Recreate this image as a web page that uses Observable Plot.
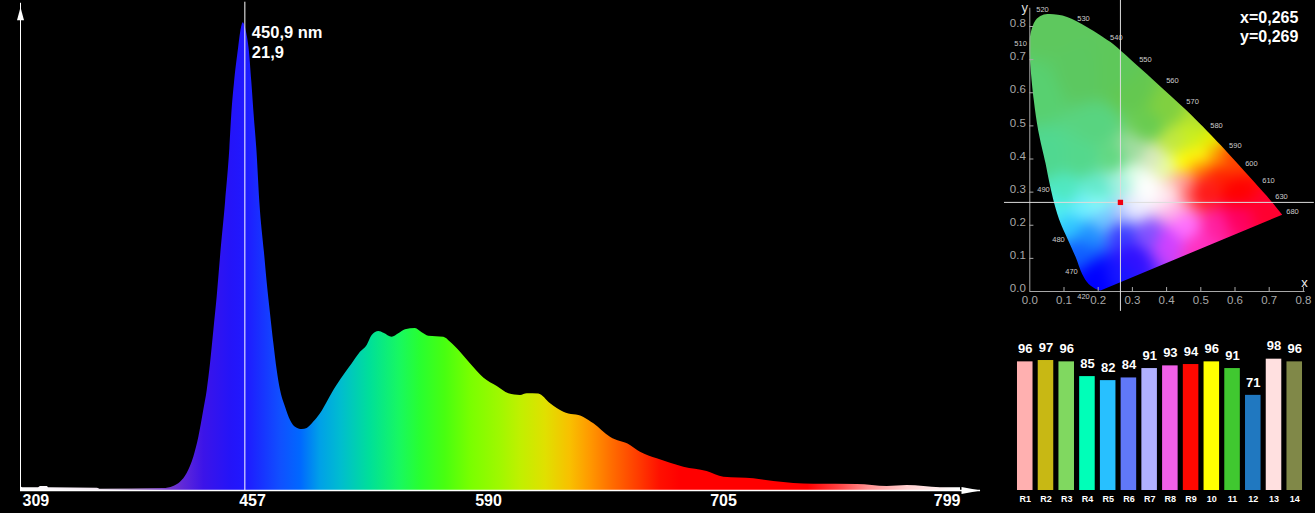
<!DOCTYPE html>
<html>
<head>
<meta charset="utf-8">
<style>
html,body{margin:0;padding:0;background:#000;}
#chart{position:relative;width:1315px;height:513px;overflow:hidden;background:#000;font-family:"Liberation Sans",Arial,sans-serif;}
#chart svg{position:absolute;display:block;background:transparent;}
</style>
<script src="https://cdn.jsdelivr.net/npm/d3@7"></script>
<script src="https://cdn.jsdelivr.net/npm/@observablehq/plot@0.6"></script>
</head>
<body>
<div id="chart"></div>
<script>
// ---- Spectrum ----
const wavelengths = [309,310.9,320.4,321.6,326.1,326.7,357.7,359.6,399.4,405.8,410.2,414.4,418.6,421.8,424.9,427.1,429.2,431.3,433.4,435.5,438.7,441.4,442.6,444.4,446.9,448.3,449.9,450.9,451.9,453.6,455.3,456.8,458.3,460,462.6,464.2,466,467.9,469.8,471.7,474.5,477.3,480.1,483.9,486.7,490.4,494.2,498,501.7,507.3,512.1,516.7,520.5,523.3,527.1,529.9,534.6,538.3,542.1,547.7,551.5,555.2,563.7,567.5,573.1,578.7,586.2,593.3,599,604.7,608,613.6,619.4,625.9,635.7,640.6,648.7,658.5,663.4,671.6,684.6,696,704.2,716.3,724.3,740.3,757.7,769.7,777.7,791,799];
const intensities = [0.19,0.13,0.13,0.19,0.19,0.13,0.11,0.06,0.09,0.19,0.39,0.8,1.56,2.49,3.74,4.68,5.94,7.49,9.05,10.92,13.49,15.99,17.55,19.11,20.67,21.45,21.89,21.75,21.45,20.67,19.11,17.55,15.99,13.49,11.14,9.69,8.28,6.88,5.62,4.68,3.9,3.28,2.96,2.85,2.9,3.2,3.59,4.13,4.68,5.38,5.93,6.47,6.79,7.25,7.44,7.36,7.17,7.33,7.52,7.58,7.38,7.22,7.17,6.94,6.47,5.93,5.27,4.87,4.53,4.45,4.53,4.51,4.06,3.66,3.42,3.12,2.49,2.11,1.79,1.48,1.09,0.89,0.62,0.55,0.42,0.29,0.28,0.19,0.23,0.13,0.13];
const gradientNm = [309,357,379,401,412,425,442,451,460.4,471.7,483,494,505.5,522.4,539,550.6,564.6,578.7,595,604.7,617,629,639,648.7,663.4,673,683,738,750,762,778,798];
const gradientColors = ["#ffffff","#f0e4f0","#b090c8","#7a40c8","#6028d8","#3c14e8","#2414f8","#2018ff","#1830ff","#1050ff","#0068ff","#00a0e8","#00bcd0","#00e098","#18f860","#28ff30","#48ff10","#78ff00","#a0f800","#c0f000","#e0e000","#f8c000","#ff9800","#ff7000","#ff3800","#ff1000","#ff0000","#ff0000","#ff4040","#ff9090","#ffd0d0","#ffffff"];
const nmTicks = [309,457,590,705,799];
const peakNm = 450.9;
const peakValue = 21.9;
const peakLabel = "450,9 nm\n21,9";

// ---- Chromaticity ----
const locusX = [0.207,0.197,0.172,0.153,0.134,0.112,0.085,0.068,0.056,0.046,0.0246,0.0117,0.002,-0.001,0.002,0.0167,0.036,0.0585,0.109,0.168,0.236,0.263,0.324,0.402,0.47,0.519,0.558,0.596,0.655,0.704,0.738];
const locusY = [0.003,0.006,0.023,0.053,0.104,0.155,0.22,0.28,0.335,0.387,0.486,0.577,0.678,0.738,0.778,0.819,0.834,0.8377,0.829,0.798,0.753,0.73,0.673,0.6,0.535,0.484,0.442,0.399,0.332,0.275,0.232];
const swatchX = [0.05,0.15,0.25,0.3,0.02,0.05,0.15,0.1,0.08,0.12,0.15,0.17,0.2,0.2,0.25,0.3,0.27,0.27,0.3,0.35,0.33,0.4,0.42,0.45,0.4,0.35,0.5,0.55,0.6,0.7,0.6,0.52,0.42,0.46,0.5,0.45,0.5,0.55,0.59,0.5,0.55,0.45,0.4,0.36,0.42,0.48,0.5,0.53,0.3,0.25,0.3,0.27,0.2,0.2,0.15,0.22,0.4,0.35,0.2];
const swatchY = [0.8,0.65,0.65,0.6,0.6,0.4,0.4,0.3,0.25,0.2,0.12,0.17,0.05,0.02,0.05,0.1,0.18,0.23,0.25,0.3,0.33,0.28,0.25,0.2,0.15,0.17,0.13,0.2,0.22,0.24,0.3,0.33,0.3,0.3,0.3,0.39,0.37,0.35,0.407,0.407,0.407,0.33,0.38,0.4,0.45,0.47,0.52,0.46,0.42,0.4,0.35,0.33,0.3,0.27,0.25,0.22,0.55,0.5,0.5];
const swatchColors = ["#5ec85e","#5cc860","#5ec85a","#64c850","#58d070","#50d890","#54d88c","#50e8c0","#50f0f0","#30c8ff","#1060ff","#2090ff","#0000ff","#0000ff","#1818ff","#3010ff","#3838ff","#b0c0ff","#f0f0ff","#ffffff","#ffffff","#fff0f8","#ffb0e8","#ff70ff","#d040ff","#8050ff","#ff30c0","#ff20a0","#ff0060","#ff0030","#ff0000","#ff2020","#ffe0e0","#ff6060","#ff1010","#ffff00","#ff8000","#ff2000","#ff4000","#ffff10","#ff9000","#ffa0a0","#e8ffa0","#d8e8c0","#c0e840","#c8f020","#b0e030","#e8f000","#a0dca0","#60d880","#e0ffe8","#a0f0e0","#60e8c8","#90ffff","#70f0ff","#70c8ff","#80d040","#68cc50","#58d480"];
const cieTicks = [0,0.1,0.2,0.3,0.4,0.5,0.6,0.7,0.8];
const nmLabels = ["520","530","540","550","560","570","580","590","600","610","630","680","490","480","470","420","510"];
const nmLabelX = [0.037,0.157,0.253,0.338,0.417,0.476,0.546,0.601,0.648,0.698,0.736,0.768,0.04,0.084,0.122,0.157,-0.027];
const nmLabelY = [0.852,0.825,0.767,0.701,0.637,0.574,0.5,0.441,0.387,0.335,0.287,0.242,0.308,0.157,0.06,-0.015,0.748];
const pointX = 0.265;
const pointY = 0.269;
const cieReadout = "x=0,265\ny=0,269";

// ---- Colour rendering ----
const criNames = ["R1","R2","R3","R4","R5","R6","R7","R8","R9","10","11","12","13","14"];
const criValues = [96,97,96,85,82,84,91,93,94,96,91,71,98,96];
const criColors = ["#ffb0b0","#c8b814","#80d860","#00ffb8","#28c0ff","#6078f8","#b0b0ff","#f060e8","#ff0800","#ffff00","#40c830","#2078c0","#ffe0e0","#808848"];

const FONT = '"Liberation Sans", Arial, sans-serif';
const spectrum = wavelengths.map((nm, i) => ({nm, v: intensities[i]}));
const tickRows = nmTicks.map((nm, i) => ({nm, anchor: i === 0 ? "start" : i === nmTicks.length - 1 ? "end" : "middle"}));

function spectrumGradient(index, {x}, values, dims, context) {
  const doc = context.document, ns = "http://www.w3.org/2000/svg";
  const defs = doc.createElementNS(ns, "defs");
  const g = doc.createElementNS(ns, "linearGradient");
  g.setAttribute("id", "spectrumFill");
  g.setAttribute("gradientUnits", "userSpaceOnUse");
  const x0 = x(gradientNm[0]), x1 = x(gradientNm[gradientNm.length - 1]);
  g.setAttribute("x1", x0); g.setAttribute("x2", x1);
  g.setAttribute("y1", 0); g.setAttribute("y2", 0);
  gradientNm.forEach((nm, i) => {
    const s = doc.createElementNS(ns, "stop");
    s.setAttribute("offset", (x(nm) - x0) / (x1 - x0));
    s.setAttribute("stop-color", gradientColors[i]);
    g.appendChild(s);
  });
  defs.appendChild(g);
  return defs;
}

const spectrumPlot = Plot.plot({
  width: 1000, height: 513, margin: 0,
  style: {background: "transparent", color: "#fff", fontFamily: FONT},
  x: {type: "linear", domain: nmTicks, range: [20, 254, 490, 725, 960], axis: null},
  y: {domain: [0, peakValue], range: [490, 22], axis: null},
  marks: [
    spectrumGradient,
    Plot.areaY(spectrum, {x: "nm", y: "v", fill: "url(#spectrumFill)", curve: "monotone-x"}),
    Plot.ruleY([0], {x1: nmTicks[0], x2: 807, stroke: "#fff", strokeWidth: 1.5}),
    Plot.ruleX([nmTicks[0]], {y1: 0, y2: 22.8, stroke: "#fff", strokeWidth: 1}),
    Plot.ruleX([peakNm], {y1: 0, y2: 22.85, stroke: "#fff", strokeWidth: 1}),
    Plot.vector([0], {x: nmTicks[0], y: 22, length: 13, r: 3.5, shape: "spike", fill: "#fff", stroke: "none", anchor: "start"}),
    Plot.vector([0], {x: 799.4, y: 0, length: 19, r: 3.5, rotate: 90, shape: "spike", fill: "#fff", stroke: "none", anchor: "start"}),
    Plot.text(tickRows.filter(d => d.anchor === "start"), {x: "nm", y: 0, text: d => String(d.nm), textAnchor: "start", dx: 2, dy: 10, fontSize: 16, fontWeight: "bold", fill: "#fff"}),
    Plot.text(tickRows.filter(d => d.anchor === "middle"), {x: "nm", y: 0, text: d => String(d.nm), textAnchor: "middle", dx: -2, dy: 10, fontSize: 16, fontWeight: "bold", fill: "#fff"}),
    Plot.text(tickRows.filter(d => d.anchor === "end"), {x: "nm", y: 0, text: d => String(d.nm), textAnchor: "end", dy: 10, fontSize: 16, fontWeight: "bold", fill: "#fff"}),
    Plot.text([peakLabel], {x: peakNm, y: peakValue, textAnchor: "start", lineAnchor: "middle", lineHeight: 1.22, dx: 7, dy: 19, fontSize: 16.5, fontWeight: "bold", fill: "#fff"})
  ]
});
spectrumPlot.style.left = "0px"; spectrumPlot.style.top = "0px";

const locus = locusX.map((x, i) => [x, locusY[i]]);
const swatchRGB = swatchColors.map(c => d3.rgb(c));
function cieColor(x, y) {
  let w = 0, r = 0, g = 0, b = 0;
  for (let i = 0; i < swatchRGB.length; i++) {
    const d2 = (x - swatchX[i]) ** 2 + (y - swatchY[i]) ** 2 + 0.001;
    const k = 1 / (d2 * d2 * d2);
    const c = swatchRGB[i];
    w += k; r += k * c.r; g += k * c.g; b += k * c.b;
  }
  return `rgb(${Math.round(r / w)},${Math.round(g / w)},${Math.round(b / w)})`;
}
function clipToLocus(index, scales, values, dims, context, next) {
  const g = next(index, scales, values, dims, context);
  const ns = "http://www.w3.org/2000/svg", doc = context.document;
  const clip = doc.createElementNS(ns, "clipPath");
  clip.setAttribute("id", "cieLocus");
  const path = doc.createElementNS(ns, "path");
  const line = d3.line(d => scales.x(d[0]), d => scales.y(d[1])).curve(d3.curveCatmullRom);
  path.setAttribute("d", line(locus) + "Z");
  clip.appendChild(path);
  g.appendChild(clip);
  g.setAttribute("clip-path", "url(#cieLocus)");
  const image = g.querySelector("image");
  if (image) image.style.filter = "blur(6px)";
  return g;
}

const axisGrey = "#a8a8a8";
const ciePlot = Plot.plot({
  width: 315, height: 325, margin: 0,
  style: {background: "transparent", color: "#fff", fontFamily: FONT},
  x: {domain: [0, 0.8], range: [29.3, 302.9], axis: null},
  y: {domain: [0, 0.8], range: [291, 26], axis: null},
  color: {type: "identity"},
  marks: [
    Plot.raster({x1: -0.06, x2: 0.8, y1: -0.06, y2: 0.9, pixelSize: 1, fill: cieColor, render: clipToLocus}),
    Plot.ruleY([0], {x1: 0, x2: 0.805, stroke: axisGrey, strokeWidth: 1}),
    Plot.ruleX([0], {y1: 0, y2: 0.855, stroke: axisGrey, strokeWidth: 1}),
    Plot.ruleX(cieTicks.slice(1), {y1: 0, y2: 0.012, stroke: axisGrey}),
    Plot.ruleY(cieTicks.slice(1), {x1: 0, x2: 0.012, stroke: axisGrey}),
    Plot.text(cieTicks, {x: d => d, y: 0, text: d => d.toFixed(1), dy: 9, fontSize: 11.5, fill: axisGrey}),
    Plot.text(cieTicks, {x: 0, y: d => d, text: d => d.toFixed(1), textAnchor: "end", dx: -4, dy: -3, fontSize: 11.5, fill: axisGrey}),
    Plot.text(["x"], {x: 0.8, y: 0.025, fontSize: 13, fill: "#eee", dx: 1}),
    Plot.text(["y"], {x: 0, y: 0.856, fontSize: 13, fill: "#ddd", dx: -5}),
    Plot.text(nmLabels, {x: nmLabelX, y: nmLabelY, fontSize: 7.5, fill: "#ccc"}),
    Plot.ruleX([pointX], {y1: -0.06, y2: 0.88, stroke: "#ddd", strokeWidth: 1}),
    Plot.ruleY([pointY], {x1: -0.074, x2: 0.832, stroke: "#ddd", strokeWidth: 1}),
    Plot.dot([0], {x: pointX, y: pointY, symbol: "square", r: 3, fill: "#f00010", stroke: "none"}),
    Plot.text([cieReadout], {x: 0.8, y: 0.8, textAnchor: "end", lineAnchor: "middle", lineHeight: 1.2, dx: -5, dy: 0, fontSize: 16, fontWeight: "bold", fill: "#fff"})
  ]
});
ciePlot.style.left = "1000px"; ciePlot.style.top = "0px";

const cri = criNames.map((name, i) => ({name, value: criValues[i], color: criColors[i]}));
const criPlot = Plot.plot({
  width: 315, height: 183, margin: 0,
  style: {background: "transparent", color: "#fff", fontFamily: FONT},
  x: {domain: criNames, range: [11.8, 307.2], padding: 0.25, round: false, axis: null},
  y: {domain: [0, 100], range: [160, 26], axis: null},
  color: {type: "identity"},
  marks: [
    Plot.barY(cri, {x: "name", y: "value", fill: "color"}),
    Plot.text(cri, {x: "name", y: "value", text: d => String(d.value), dy: -13, fontSize: 13, fontWeight: "bold", fill: "#fff"}),
    Plot.text(cri, {x: "name", y: 0, text: "name", dy: 9, fontSize: 9, fontWeight: "bold", fill: "#fff"})
  ]
});
criPlot.style.left = "1000px"; criPlot.style.top = "330px";

const chart = document.getElementById("chart");
chart.append(spectrumPlot, ciePlot, criPlot);
</script>
</body>
</html>
